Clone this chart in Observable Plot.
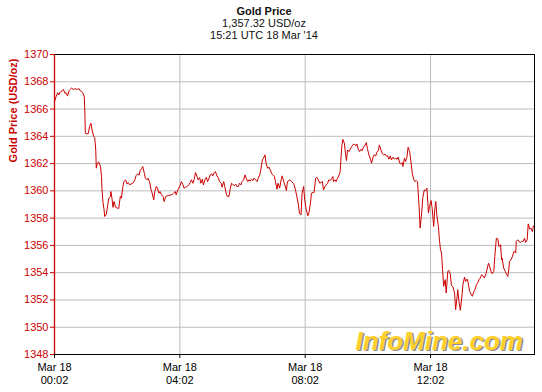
<!DOCTYPE html>
<html><head><meta charset="utf-8">
<script src="https://cdn.jsdelivr.net/npm/d3@7"></script>
<script src="https://cdn.jsdelivr.net/npm/@observablehq/plot@0.6"></script>
<style>
body{margin:0;background:#fff;font-family:"Liberation Sans",Arial,sans-serif;}
#chart{width:542px;height:392px;position:relative;background:#fff;}
#head{width:528px;height:44px;box-sizing:border-box;padding-top:5px;text-align:center;font-size:11px;line-height:12px;color:#111;}
#head .t{font-weight:bold;}
#chart svg{display:block;}
</style></head><body>
<div id="chart"><div id="head"><div class="t"></div><div class="s1"></div><div class="s2"></div></div></div>
<script>
const title = "Gold Price";
const subtitle = "1,357.32 USD/oz";
const stamp = "15:21 UTC 18 Mar '14";
const yLabel = "Gold Price (USD/oz)";
const watermark = "InfoMine.com";

// minutes after 00:00 UTC, 18 Mar 2014
const minutesUTC = [
  2,5,8,10,13,17,19,22,24,27,
  30,32,35,38,42,46,49,51,54,56,
  59,60,61,64,67,69,72,74,77,79,
  81,82,84,87,90,92,93,95,97,98,
  101,104,106,109,110,112,114,116,119,121,
  125,128,130,133,135,138,141,143,146,148,
  152,156,158,161,164,166,169,171,174,176,
  179,181,184,187,189,192,194,197,199,202,
  204,207,210,212,215,217,221,225,227,230,
  233,235,238,240,243,245,248,250,253,256,
  259,262,264,267,270,272,275,277,280,282,
  285,287,290,293,295,298,300,303,305,308,
  310,313,316,318,321,323,326,328,331,333,
  336,338,341,344,346,349,351,354,356,359,
  361,364,367,369,372,374,377,379,382,384,
  387,390,392,395,397,400,402,405,407,410,
  413,415,418,420,423,425,428,430,433,436,
  438,441,443,446,448,451,453,456,459,461,
  464,466,469,471,474,476,479,481,484,487,
  489,492,494,497,499,502,504,507,510,512,
  515,517,520,522,525,527,530,533,535,536,
  539,541,544,547,549,550,552,554,557,559,
  561,563,566,568,571,573,576,579,581,584,
  586,589,591,594,596,599,601,604,607,609,
  612,614,617,619,622,624,627,630,632,635,
  637,640,642,645,647,650,653,655,658,660,
  663,665,668,669,672,674,677,679,682,684,
  687,690,692,695,697,700,702,705,707,710,
  713,715,718,720,723,725,728,730,732,734,
  737,739,741,743,745,747,750,752,755,757,
  760,762,765,768,770,773,774,776,779,782,
  784,787,789,792,794,797,799,802,805,807,
  810,812,815,817,820,822,825,828,830,833,
  835,838,840,843,845,848,851,853,856,858,
  859,862,865,867,870,872,873,876,879,880,
  882,885,886,889,891,894,896,899,902,904,
  907,909,912,914,917,919,921
];
const prices = [
  1366.54,1366.91,1367.20,1367.03,1367.25,1367.35,1367.44,1367.15,1367.20,1366.95,
  1367.35,1367.44,1367.54,1367.44,1367.49,1367.44,1367.49,1367.35,1367.30,1367.20,
  1366.91,1365.93,1364.22,1364.17,1364.22,1364.71,1364.95,1364.46,1363.98,1363.93,
  1363.00,1361.66,1362.03,1362.12,1361.78,1361.05,1360.07,1359.10,1358.61,1358.12,
  1358.24,1358.98,1359.46,1359.59,1359.95,1359.46,1358.79,1359.22,1358.79,1358.76,
  1358.71,1359.59,1359.46,1360.32,1360.68,1360.81,1360.51,1360.61,1360.44,1360.49,
  1360.56,1360.81,1361.10,1361.25,1361.15,1361.49,1361.66,1361.78,1361.29,1360.93,
  1360.81,1360.93,1360.68,1360.07,1359.83,1359.34,1359.95,1360.32,1360.20,1359.83,
  1359.95,1359.71,1359.59,1359.22,1359.59,1359.63,1359.66,1359.71,1359.71,1359.83,
  1359.95,1359.71,1360.07,1360.20,1360.44,1360.68,1360.44,1360.20,1360.27,1360.32,
  1360.44,1360.61,1360.81,1360.56,1360.93,1361.34,1361.05,1360.81,1360.98,1360.56,
  1360.85,1360.44,1360.81,1361.00,1360.68,1360.93,1361.17,1361.25,1361.10,1361.34,
  1361.42,1361.10,1360.93,1360.68,1360.56,1360.27,1360.68,1360.32,1359.78,1359.59,
  1359.59,1360.07,1360.56,1360.44,1360.37,1360.49,1360.32,1360.32,1360.56,1360.44,
  1360.68,1360.81,1361.17,1360.93,1360.68,1360.81,1360.73,1360.85,1360.76,1360.93,
  1360.81,1360.68,1360.93,1361.17,1361.54,1362.27,1362.39,1362.64,1362.03,1361.66,
  1361.73,1361.54,1361.25,1361.17,1361.05,1360.68,1360.12,1360.56,1360.20,1360.81,
  1361.10,1360.68,1360.44,1360.02,1360.68,1360.76,1360.81,1360.68,1360.56,1360.44,
  1359.95,1359.59,1358.98,1358.37,1358.24,1359.83,1360.32,1359.34,1358.61,1358.17,
  1358.37,1359.10,1359.83,1359.88,1359.88,1360.93,1361.00,1360.81,1360.56,1360.61,
  1360.68,1360.07,1360.32,1360.44,1360.56,1360.81,1360.76,1360.93,1361.05,1360.68,
  1360.81,1360.68,1360.93,1361.17,1361.42,1362.15,1363.25,1363.78,1363.49,1362.76,
  1362.22,1363.00,1362.88,1363.05,1363.25,1363.37,1363.44,1363.30,1363.44,1363.00,
  1362.88,1363.05,1362.95,1363.25,1363.30,1363.54,1363.12,1362.64,1362.32,1362.03,
  1362.47,1362.64,1362.56,1362.81,1362.95,1363.37,1363.00,1362.71,1362.64,1362.69,
  1362.56,1362.56,1362.32,1362.56,1362.27,1362.47,1362.32,1362.39,1362.32,1362.47,
  1362.03,1361.98,1362.07,1361.78,1362.39,1362.15,1362.52,1363.20,1362.88,1362.27,
  1361.29,1360.81,1360.68,1360.76,1360.68,1358.85,1357.27,1358.37,1359.46,1360.07,
  1360.02,1360.20,1358.37,1358.85,1359.29,1358.73,1357.39,1358.61,1359.22,1358.24,
  1357.39,1356.41,1355.68,1355.44,1354.22,1353.00,1353.49,1352.51,1354.09,1354.17,
  1353.85,1353.05,1352.95,1352.51,1351.29,1352.27,1352.75,1352.02,1351.24,1352.27,
  1353.12,1353.68,1353.36,1353.53,1353.24,1352.63,1352.46,1352.27,1352.63,1352.75,
  1353.12,1353.24,1353.49,1353.61,1353.85,1353.78,1353.61,1353.92,1354.22,1354.70,
  1354.46,1354.09,1353.92,1354.09,1355.19,1356.53,1356.46,1355.92,1356.05,1354.95,
  1355.07,1354.34,1354.09,1353.92,1353.73,1354.34,1354.83,1354.95,1355.19,1355.39,
  1355.56,1355.44,1356.29,1356.41,1356.29,1356.22,1356.29,1356.29,1356.53,1356.22,
  1356.41,1357.58,1357.19,1357.27,1357.02,1357.44,1357.32
];
const xTickLabels = ["00:02", "04:02", "08:02", "12:02"];
const xDomainLabels = ["00:02", "15:21"];
const yTicks = [1348,1350,1352,1354,1356,1358,1360,1362,1364,1366,1368,1370];

document.querySelector("#head .t").textContent = title;
document.querySelector("#head .s1").textContent = subtitle;
document.querySelector("#head .s2").textContent = stamp;

const day = Date.UTC(2014, 2, 18);
const toDate = m => new Date(day + m * 60000);
const parseHM = s => { const [h, mm] = s.split(":").map(Number); return toDate(h * 60 + mm); };
const data = minutesUTC.map((m, i) => ({time: toDate(m), price: prices[i]}));
const xTicks = xTickLabels.map(parseHM);
const xDomain = xDomainLabels.map(parseHM);
const red = "#cc0000";
const fmt = d3.utcFormat("%b %d\n%H:%M");

const chart = Plot.plot({
  width: 542, height: 348,
  marginLeft: 54, marginRight: 8, marginTop: 10, marginBottom: 38,
  style: {fontFamily: "'Liberation Sans', Arial, sans-serif", fontSize: "11px", background: "#fff", overflow: "visible"},
  x: {type: "utc", domain: xDomain},
  y: {domain: [yTicks[0], yTicks[yTicks.length - 1]]},
  marks: [
    Plot.gridY(yTicks, {stroke: "#bdbdbd", strokeOpacity: 1}),
    Plot.gridX(xTicks, {stroke: "#bdbdbd", strokeOpacity: 1}),
    Plot.text([watermark], {text: d => d, frameAnchor: "bottom-right", textAnchor: "end", lineAnchor: "bottom",
      dx: -10, dy: -3.5, fill: "#8c8c8c", fontSize: 26, fontWeight: "bold", fontStyle: "italic"}),
    Plot.text([watermark], {text: d => d, frameAnchor: "bottom-right", textAnchor: "end", lineAnchor: "bottom",
      dx: -11.5, dy: -5, fill: "#ffd02a", fontSize: 26, fontWeight: "bold", fontStyle: "italic"}),
    Plot.line(data, {x: "time", y: "price", stroke: red, strokeWidth: 1}),
    Plot.frame({stroke: "#000"}),
    Plot.ruleX([xDomain[0]], {stroke: red, strokeWidth: 1.3}),
    Plot.axisY(yTicks, {tickSize: 4, tickPadding: 2, color: red, label: null, tickFormat: d => String(d), fontSize: 11}),
    Plot.axisX(xTicks, {tickSize: 4, tickPadding: 3, label: null, tickFormat: fmt, lineHeight: 1.2, fontSize: 11, color: "#000"}),
    Plot.text([yLabel], {text: d => d, frameAnchor: "top-left", rotate: -90, textAnchor: "end", lineAnchor: "middle",
      dx: -41.5, dy: 4, fill: red, fontWeight: "bold", fontSize: 11})
  ]
});
document.getElementById("chart").appendChild(chart);
</script>
</body></html>
